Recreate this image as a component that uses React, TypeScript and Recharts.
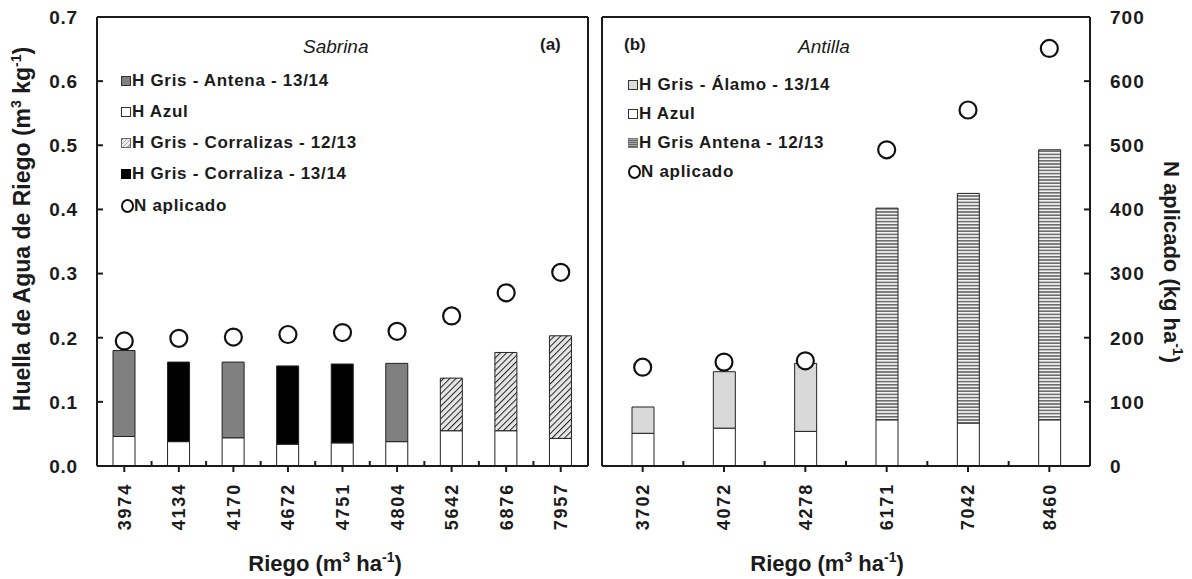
import React from 'react';
import { ComposedChart, Bar, Scatter, XAxis, YAxis, Cell } from 'recharts';

// Sabrina (a)
const riegoSabrina = ['3974', '4134', '4170', '4672', '4751', '4804', '5642', '6876', '7957'];
const azulSabrina = [0.046, 0.038, 0.044, 0.034, 0.036, 0.038, 0.055, 0.055, 0.043];
const grisSabrina = [0.134, 0.124, 0.118, 0.122, 0.123, 0.122, 0.082, 0.122, 0.16];
const tipoSabrina = ['antena', 'corraliza', 'antena', 'corraliza', 'corraliza', 'antena', 'corralizas', 'corralizas', 'corralizas'];
const nSabrina = [195, 199, 201, 205, 208, 210, 234, 270, 302];

// Antilla (b)
const riegoAntilla = ['3702', '4072', '4278', '6171', '7042', '8460'];
const azulAntilla = [0.051, 0.059, 0.054, 0.072, 0.067, 0.072];
const grisAntilla = [0.041, 0.088, 0.106, 0.33, 0.358, 0.421];
const tipoAntilla = ['alamo', 'alamo', 'alamo', 'antena1213', 'antena1213', 'antena1213'];
const nAntilla = [154, 162, 164, 493, 555, 651];

const huellaTicks = [0, 0.1, 0.2, 0.3, 0.4, 0.5, 0.6, 0.7];
const nTicks = [0, 100, 200, 300, 400, 500, 600, 700];

const FONT = '"Liberation Sans", Arial, sans-serif';
const INK = '#1b1b1b';

const fills: Record<string, string> = {
  antena: '#808080',
  corraliza: '#000000',
  corralizas: 'url(#hatchDiag)',
  alamo: '#d9d9d9',
  antena1213: 'url(#hatchHoriz)',
};

const sabrinaData = riegoSabrina.map((r, i) => ({ riego: r, azul: azulSabrina[i], gris: grisSabrina[i], n: nSabrina[i] }));
const antillaData = riegoAntilla.map((r, i) => ({ riego: r, azul: azulAntilla[i], gris: grisAntilla[i], n: nAntilla[i] }));

function LeftTick(props: any) {
  const { x, y, payload } = props;
  const axisX = x + 19;
  return (
    <g>
      <line x1={axisX} x2={axisX + 6} y1={y} y2={y} stroke={INK} strokeWidth={2} />
      <text x={x} y={y} dy="0.36em" textAnchor="end" fontSize={19} fontWeight="bold" letterSpacing={0.8} fill={INK} fontFamily={FONT}>
        {Number(payload.value).toFixed(1)}
      </text>
    </g>
  );
}

function RightTick(props: any) {
  const { x, y, payload } = props;
  const axisX = x - 20;
  return (
    <g>
      <line x1={axisX - 6} x2={axisX} y1={y} y2={y} stroke={INK} strokeWidth={2} />
      <text x={x} y={y} dy="0.36em" textAnchor="start" fontSize={19} fontWeight="bold" letterSpacing={1} fill={INK} fontFamily={FONT}>
        {payload.value}
      </text>
    </g>
  );
}

// band half width is passed in from the plot width and category count
const makeCatTick = (half: number) =>
  function CatTick(props: any) {
    const { x, y, payload } = props;
    const ty = y + 17;
    return (
      <g>
        <line x1={x} x2={x} y1={y} y2={y + 6} stroke={INK} strokeWidth={2} />
        <line x1={x + half} x2={x + half} y1={y} y2={y - 5} stroke={INK} strokeWidth={2} />
        <text
          x={x}
          y={ty}
          dy="0.36em"
          transform={`rotate(-90 ${x} ${ty})`}
          textAnchor="end"
          fontSize={18}
          fontWeight="bold"
          letterSpacing={1.8}
          fill={INK}
          fontFamily={FONT}
        >
          {payload.value}
        </text>
      </g>
    );
  };

const SabrinaTick = makeCatTick(491 / riegoSabrina.length / 2);
const AntillaTick = makeCatTick(488 / riegoAntilla.length / 2);

function Ring(props: any) {
  const { cx, cy } = props;
  return <circle cx={cx} cy={cy} r={8.5} fill="#fff" stroke="#111" strokeWidth={2.2} />;
}

const txt: React.CSSProperties = {
  position: 'absolute',
  fontFamily: FONT,
  color: INK,
  whiteSpace: 'nowrap',
};

function Swatch({ bg, border = '#333' }: { bg: string; border?: string }) {
  return (
    <span
      style={{
        display: 'inline-block',
        width: 8,
        height: 8,
        background: bg,
        border: `1px solid ${border}`,
        marginRight: 1,
      }}
    />
  );
}

function RingIcon() {
  return (
    <span
      style={{
        display: 'inline-block',
        width: 9,
        height: 10,
        borderRadius: '50%',
        border: '2px solid #111',
      }}
    />
  );
}

function LegendRow({ top, left, icon, label }: { top: number; left: number; icon: React.ReactNode; label: string }) {
  return (
    <div
      style={{
        ...txt,
        left,
        top: top - 10,
        height: 20,
        display: 'flex',
        alignItems: 'center',
        fontSize: 17,
        fontWeight: 'bold',
        letterSpacing: 0.7,
      }}
    >
      {icon}
      <span>{label}</span>
    </div>
  );
}

const diagCss = 'repeating-linear-gradient(135deg, #aaa 0 1px, #eee 1px 3px)';
const horizCss = 'repeating-linear-gradient(0deg, #666 0 1px, #aaa 1px 2px)';

export default function App() {
  return (
    <div style={{ position: 'absolute', left: 0, top: 0, width: 1192, height: 579, background: '#fff', fontFamily: FONT }}>
      {/* panel (a) */}
      <div style={{ position: 'absolute', left: 0, top: 0 }}>
        <ComposedChart width={600} height={579} data={sabrinaData} margin={{ top: 16, right: 11, left: 37, bottom: 53 }} barCategoryGap={0}>
          <defs>
            <pattern id="hatchDiag" patternUnits="userSpaceOnUse" width="4.4" height="4.4" patternTransform="rotate(45)">
              <rect width="4.4" height="4.4" fill="#e6e6e6" />
              <line x1="0" y1="0" x2="0" y2="4.4" stroke="#222" strokeWidth="2" />
            </pattern>
          </defs>
          <XAxis
            dataKey="riego"
            height={60}
            interval={0}
            tickSize={0}
            tickMargin={0}
            tickLine={false}
            axisLine={{ stroke: INK, strokeWidth: 2 }}
            tick={<SabrinaTick />}
          />
          <XAxis xAxisId="top" dataKey="riego" orientation="top" height={1} tick={false} tickLine={false} axisLine={{ stroke: INK, strokeWidth: 2 }} />
          <YAxis
            yAxisId="h"
            width={60}
            domain={[0, 0.7]}
            ticks={huellaTicks}
            interval={0}
            tickSize={0}
            tickMargin={19}
            tickLine={false}
            axisLine={{ stroke: INK, strokeWidth: 2 }}
            tick={<LeftTick />}
          />
          <YAxis yAxisId="n" orientation="right" width={1} domain={[0, 700]} tick={false} tickLine={false} axisLine={{ stroke: INK, strokeWidth: 2 }} />
          <Bar dataKey="azul" stackId="s" yAxisId="h" barSize={22} fill="#fff" stroke="#222" strokeWidth={1} isAnimationActive={false} />
          <Bar dataKey="gris" stackId="s" yAxisId="h" barSize={22} stroke="#222" strokeWidth={1} isAnimationActive={false}>
            {tipoSabrina.map((t, i) => (
              <Cell key={i} fill={fills[t]} />
            ))}
          </Bar>
          <Scatter dataKey="n" yAxisId="n" shape={<Ring />} isAnimationActive={false} />
        </ComposedChart>
      </div>

      {/* panel (b) */}
      <div style={{ position: 'absolute', left: 596, top: 0 }}>
        <ComposedChart width={596} height={579} data={antillaData} margin={{ top: 16, right: 42, left: 5, bottom: 53 }} barCategoryGap={0}>
          <defs>
            <pattern id="hatchHoriz" patternUnits="userSpaceOnUse" width="4" height="3.2">
              <rect width="4" height="3.2" fill="#f2f2f2" />
              <line x1="0" y1="0.8" x2="4" y2="0.8" stroke="#666" strokeWidth="1.5" />
            </pattern>
          </defs>
          <XAxis
            dataKey="riego"
            height={60}
            interval={0}
            tickSize={0}
            tickMargin={0}
            tickLine={false}
            axisLine={{ stroke: INK, strokeWidth: 2 }}
            tick={<AntillaTick />}
          />
          <XAxis xAxisId="top" dataKey="riego" orientation="top" height={1} tick={false} tickLine={false} axisLine={{ stroke: INK, strokeWidth: 2 }} />
          <YAxis yAxisId="h" width={1} domain={[0, 0.7]} tick={false} tickLine={false} axisLine={{ stroke: INK, strokeWidth: 2 }} />
          <YAxis
            yAxisId="n"
            orientation="right"
            width={60}
            domain={[0, 700]}
            ticks={nTicks}
            interval={0}
            tickSize={0}
            tickMargin={20}
            tickLine={false}
            axisLine={{ stroke: INK, strokeWidth: 2 }}
            tick={<RightTick />}
          />
          <Bar dataKey="azul" stackId="s" yAxisId="h" barSize={22} fill="#fff" stroke="#222" strokeWidth={1} isAnimationActive={false} />
          <Bar dataKey="gris" stackId="s" yAxisId="h" barSize={22} stroke="#222" strokeWidth={1} isAnimationActive={false}>
            {tipoAntilla.map((t, i) => (
              <Cell key={i} fill={fills[t]} />
            ))}
          </Bar>
          <Scatter dataKey="n" yAxisId="n" shape={<Ring />} isAnimationActive={false} />
        </ComposedChart>
      </div>

      {/* panel labels */}
      <div style={{ ...txt, left: 303, top: 36, fontSize: 19, fontStyle: 'italic' }}>Sabrina</div>
      <div style={{ ...txt, left: 540, top: 35, fontSize: 17, fontWeight: 'bold' }}>(a)</div>
      <div style={{ ...txt, left: 624, top: 35, fontSize: 17, fontWeight: 'bold' }}>(b)</div>
      <div style={{ ...txt, left: 798, top: 36, fontSize: 19, fontStyle: 'italic' }}>Antilla</div>

      {/* legend (a) */}
      <LegendRow left={121} top={81} icon={<Swatch bg="#808080" />} label="H Gris - Antena - 13/14" />
      <LegendRow left={121} top={112} icon={<Swatch bg="#fff" />} label="H Azul" />
      <LegendRow left={121} top={143} icon={<Swatch bg={diagCss} border="#666" />} label="H Gris - Corralizas - 12/13" />
      <LegendRow left={121} top={174} icon={<Swatch bg="#000" border="#000" />} label="H Gris - Corraliza - 13/14" />
      <LegendRow left={121} top={206} icon={<RingIcon />} label="N aplicado" />

      {/* legend (b) */}
      <LegendRow left={628} top={85} icon={<Swatch bg="#dcdcdc" />} label="H Gris - Álamo - 13/14" />
      <LegendRow left={628} top={114} icon={<Swatch bg="#fff" />} label="H Azul" />
      <LegendRow left={628} top={143} icon={<Swatch bg={horizCss} border="#777" />} label="H Gris Antena - 12/13" />
      <LegendRow left={628} top={172} icon={<RingIcon />} label="N aplicado" />

      {/* axis titles */}
      <div
        style={{
          ...txt,
          left: 22,
          top: 229,
          fontSize: 23,
          fontWeight: 'bold',
          transform: 'translate(-50%, -50%) rotate(-90deg)',
        }}
      >
        Huella de Agua de Riego (m<sup style={{ fontSize: 14 }}>3</sup> kg<sup style={{ fontSize: 14 }}>-1</sup>)
      </div>
      <div
        style={{
          ...txt,
          left: 1172,
          top: 262,
          fontSize: 22,
          fontWeight: 'bold',
          transform: 'translate(-50%, -50%) rotate(90deg)',
        }}
      >
        N aplicado (kg ha<sup style={{ fontSize: 14 }}>-1</sup>)
      </div>
      <div style={{ ...txt, left: 325, top: 563, fontSize: 22, fontWeight: 'bold', transform: 'translate(-50%, -50%)' }}>
        Riego (m<sup style={{ fontSize: 14 }}>3</sup> ha<sup style={{ fontSize: 14 }}>-1</sup>)
      </div>
      <div style={{ ...txt, left: 827, top: 563, fontSize: 22, fontWeight: 'bold', transform: 'translate(-50%, -50%)' }}>
        Riego (m<sup style={{ fontSize: 14 }}>3</sup> ha<sup style={{ fontSize: 14 }}>-1</sup>)
      </div>
    </div>
  );
}
